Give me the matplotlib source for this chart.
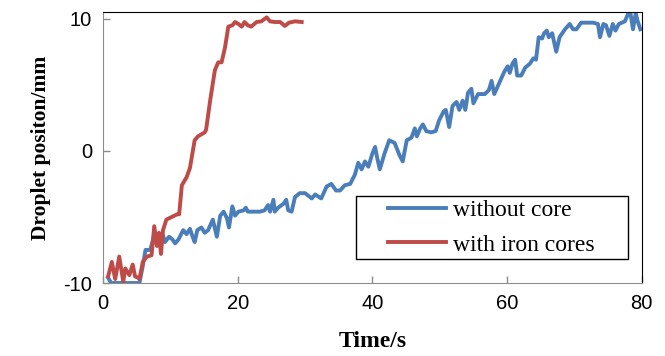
import matplotlib
matplotlib.use('Agg')
from matplotlib import pyplot as plt
from matplotlib.patches import Rectangle

plt.rcParams['axes.unicode_minus'] = False

# without core (blue)
t_plain = [0.75, 1.2, 2.5, 3.6, 4.5, 5.4, 5.9, 6.3, 7.0, 7.7, 8.4, 8.9, 9.2, 9.8, 10.3, 10.7,
           11.2, 11.9, 12.4, 12.9, 13.3, 13.6, 14.0, 14.6, 15.1, 15.6, 16.3, 16.9, 17.4, 17.9,
           18.4, 18.7, 19.2, 19.6, 20.1, 20.9, 21.2, 21.5, 22.3, 23.3, 24.0, 24.5, 24.8, 25.3,
           25.5, 26.0, 26.8, 27.2, 27.5, 28.0, 28.5, 29.2, 30.0, 31.0, 31.5, 32.4, 33.2, 33.9,
           34.6, 35.2, 35.9, 36.7, 37.4, 37.9, 38.4, 38.9, 39.4, 40.0, 40.4, 40.7, 41.1, 41.8,
           42.5, 43.3, 44.0, 44.5, 45.1, 45.8, 46.3, 46.6, 47.1, 47.5, 48.0, 48.7, 49.4, 49.9,
           50.6, 50.9, 51.4, 51.9, 52.5, 52.9, 53.4, 53.8, 54.2, 54.7, 55.0, 55.7, 56.7, 57.3,
           57.7, 58.1, 58.8, 59.6, 60.1, 60.4, 60.8, 61.2, 61.5, 62.1, 62.7, 63.4, 63.9, 64.3,
           64.7, 65.2, 65.5, 65.9, 66.2, 66.7, 67.3, 67.8, 68.6, 69.3, 69.8, 70.3, 71.0, 72.8,
           73.5, 73.8, 74.3, 74.7, 75.2, 75.7, 76.1, 76.6, 77.5, 78.0, 78.3, 78.7, 79.1, 79.4,
           79.8]
pos_plain = [-9.6, -10.0, -10.0, -10.0, -10.0, -10.0, -8.7, -7.5, -7.5, -6.2, -6.7, -6.4, -6.9,
             -6.5, -6.7, -7.0, -6.7, -6.0, -6.3, -5.9, -6.5, -6.9, -6.0, -5.8, -6.2, -6.0, -5.2,
             -6.5, -4.9, -4.6, -5.1, -5.8, -4.2, -4.9, -4.6, -4.5, -4.3, -4.6, -4.6, -4.6, -4.5,
             -4.1, -4.6, -3.7, -4.6, -4.3, -4.0, -3.7, -4.5, -4.6, -3.5, -3.2, -3.2, -3.6, -3.3,
             -3.6, -2.7, -2.5, -3.0, -3.0, -2.6, -2.5, -1.8, -0.9, -1.4, -0.8, -1.2, -0.2, 0.3,
             -0.5, -1.4, -0.2, 0.8, 0.6, -0.3, -0.8, 0.8, 1.0, 1.7, 1.1, 1.7, 2.0, 1.5, 1.4, 1.5,
             2.3, 3.0, 3.1, 1.8, 3.4, 3.7, 3.1, 3.8, 3.1, 4.4, 4.7, 3.6, 4.3, 4.3, 4.6, 5.3, 4.3,
             5.1, 6.0, 6.4, 5.9, 6.6, 6.9, 5.7, 5.7, 6.3, 6.6, 7.0, 6.9, 8.6, 8.5, 8.9, 9.1, 8.6,
             8.9, 7.5, 8.6, 9.2, 9.6, 9.2, 9.2, 9.7, 9.7, 9.6, 8.6, 9.6, 9.5, 8.7, 9.6, 9.1, 9.6,
             9.8, 10.4, 10.5, 9.2, 10.4, 9.8, 9.2]

# with iron cores (red)
t_iron = [0.75, 1.3, 1.8, 2.4, 3.0, 3.3, 3.9, 4.4, 4.75, 5.2, 5.4, 5.9, 6.5, 7.2, 7.6, 8.0,
          8.3, 8.6, 8.9, 9.4, 10.2, 11.0, 11.3, 11.7, 12.4, 12.9, 13.6, 14.1, 15.1, 15.3, 15.9,
          16.6, 17.1, 17.6, 18.1, 18.6, 19.2, 19.6, 20.1, 20.6, 21.0, 21.5, 22.0, 22.8, 23.5,
          24.3, 24.8, 25.5, 26.3, 27.0, 27.6, 28.5, 29.5]
pos_iron = [-9.5, -8.4, -9.7, -8.0, -9.9, -8.9, -9.4, -8.6, -9.5, -9.6, -9.7, -8.4, -8.0, -7.9,
            -5.7, -7.2, -6.2, -7.8, -6.0, -5.2, -5.0, -4.8, -4.8, -2.6, -2.0, -1.3, 0.8, 1.1,
            1.4, 1.6, 3.8, 6.1, 6.7, 6.7, 7.8, 9.4, 9.5, 9.75, 9.6, 9.4, 9.75, 9.5, 9.4, 9.75,
            9.8, 10.1, 9.8, 9.75, 9.75, 9.45, 9.7, 9.8, 9.75]

fig = plt.figure(figsize=(6.65, 3.56), dpi=100)
ax = fig.add_axes([0.155, 0.205, 0.81, 0.761])

ax.plot(t_plain, pos_plain, color='#4a7ebb', lw=2.8, label='without core')
ax.plot(t_iron, pos_iron, color='#be4b48', lw=2.8, label='with iron cores')

ax.set_xlim(0, 80)
ax.set_ylim(-10, 10.5)
ax.set_xticks([0, 20, 40, 60, 80])
ax.set_yticks([-10, 0, 10])

for side in ['left', 'bottom']:
    ax.spines[side].set_color('#8c8c8c')
for side in ['top', 'right']:
    ax.spines[side].set_color('black')
ax.tick_params(direction='in', length=5, color='#8c8c8c', width=1,
               labelsize=14.5, pad=8)
for lab in ax.get_xticklabels() + ax.get_yticklabels():
    lab.set_fontfamily('Liberation Sans')

ax.set_xlabel('Time/s', family='Liberation Serif', fontweight='bold', fontsize=17, labelpad=13)
ax.set_ylabel('Droplet positon/mm', family='Liberation Serif', fontweight='bold', fontsize=15.5,
              labelpad=9)

# legend box drawn separately (wide side padding like the original)
ax.add_patch(Rectangle((0.535, 0.2725), 0.409, 0.177, transform=fig.transFigure,
                       facecolor='white', edgecolor='black', lw=1.0, zorder=4, clip_on=False))
leg = ax.legend(loc='center left', bbox_to_anchor=(0.584, 0.361), bbox_transform=fig.transFigure,
                frameon=False, prop={'family': 'Liberation Serif', 'size': 17},
                handlelength=2.45, handletextpad=0.3, borderpad=0, labelspacing=0.55,
                borderaxespad=0)
leg.set_zorder(5)

fig.savefig('out.png', dpi=100)
